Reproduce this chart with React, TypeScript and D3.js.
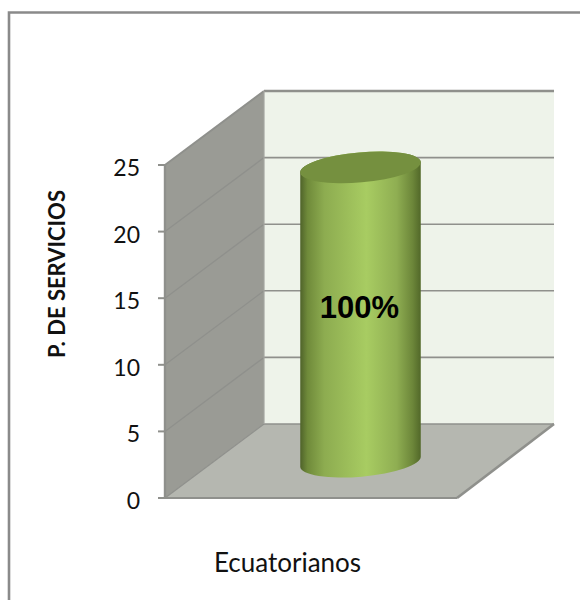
import React from 'react';
import * as d3 from 'd3';

const categories = ['Ecuatorianos'];
const values = [22.1];
const ticks = [0, 5, 10, 15, 20, 25];
const barLabels = ['100%'];
const yTitle = 'P. DE SERVICIOS';

const FONT = 'Lato, Carlito, Calibri, sans-serif';
const GRID = '#8f908c';

// front plane of the 3D box, the back wall is shifted by depth
const left = 165;
const right = 457;
const depthX = 99;
const depthY = 74;

const y = d3.scaleLinear().domain([0, 25]).range([498, 165]);
const x = d3.scaleBand<string>().domain(categories).range([left, right]).paddingInner(0).paddingOuter(0.707);
const line = d3.line();

function cylinderPath(cx: number, yTop: number, yBase: number, rx: number, ry: number) {
  const rot = -5;
  const ex = rx * Math.cos((rot * Math.PI) / 180);
  const ey = rx * Math.sin((rot * Math.PI) / 180);
  return `M${cx - ex},${yTop - ey} L${cx - ex},${yBase - ey} A${rx},${ry} ${rot} 0 0 ${cx + ex},${yBase + ey} L${cx + ex},${yTop + ey} A${rx},${ry} ${rot} 0 0 ${cx - ex},${yTop - ey} Z`;
}

export default function App() {
  const y0 = y(0);
  const y25 = y(25);
  const backLeft = left + depthX;
  const backRight = right + depthX - 2;
  const rx = x.bandwidth() / 2;

  return (
    <svg width={580} height={600} style={{ position: 'absolute', left: 0, top: 0, background: '#fff' }}>
      <defs>
        <linearGradient id="cyl" x1="0" x2="1" y1="0" y2="0">
          <stop offset="0" stopColor="#4f632a" />
          <stop offset="0.06" stopColor="#6f8a3a" />
          <stop offset="0.2" stopColor="#8dac50" />
          <stop offset="0.55" stopColor="#a8cc62" />
          <stop offset="0.8" stopColor="#8fae52" />
          <stop offset="0.93" stopColor="#6d873a" />
          <stop offset="1" stopColor="#526829" />
        </linearGradient>
      </defs>

      {/* outer frame, only top and left are in the picture */}
      <path d="M9,600 V12.5 H580" fill="none" stroke="#8a8a8a" strokeWidth={2.6} />

      {/* walls and floor */}
      <rect x={backLeft} y={y25 - depthY} width={backRight - backLeft} height={y0 - y25} fill="#eef3ea" />
      <path d={line([[left, y0], [left, y25], [backLeft, y25 - depthY], [backLeft, y0 - depthY]])!} fill="#9a9b95" />
      <path d={line([[left, y0], [right, y0], [backRight, y0 - depthY], [backLeft, y0 - depthY]])!} fill="#b5b7b0" />

      {/* gridlines */}
      {ticks.map((t) => (
        <g key={t} fill="none" stroke={GRID}>
          <path d={line([[left, y(t)], [backLeft, y(t) - depthY]])!} strokeWidth={t === 25 ? 2 : 1.3} />
          <path d={line([[backLeft, y(t) - depthY], [backRight, y(t) - depthY]])!} strokeWidth={t === 25 ? 2.6 : 1.6} />
          <path d={line([[left - 7, y(t)], [left, y(t)]])!} strokeWidth={2} />
        </g>
      ))}
      <path d={line([[left, y25], [left, y0]])!} fill="none" stroke={GRID} strokeWidth={2.4} />
      <path d={line([[backLeft, y25 - depthY], [backLeft, y0 - depthY]])!} fill="none" stroke="#a4a5a0" strokeWidth={1.2} />
      <path d={line([[left, y0], [right, y0]])!} fill="none" stroke={GRID} strokeWidth={2.2} />
      <path d={line([[right, y0], [backRight, y0 - depthY]])!} fill="none" stroke={GRID} strokeWidth={2.6} />

      {/* tick labels */}
      {ticks.map((t) => (
        <text key={t} x={140} y={y(t) + 3} dy="0.35em" textAnchor="end" fontFamily={FONT} fontSize={23} fill="#111">
          {t}
        </text>
      ))}

      {/* bars */}
      {categories.map((c, i) => {
        const cx = (x(c) as number) + rx + depthX * 0.5;
        const yBase = y(0) - depthY * 0.49;
        const yTop = y(values[i]) - depthY * 0.49;
        const rot = -5;
        return (
          <g key={c}>
            <path d={cylinderPath(cx, yTop, yBase, rx, 15)} fill="url(#cyl)" />
            <ellipse cx={cx} cy={yTop} rx={rx} ry={15} transform={`rotate(${rot} ${cx} ${yTop})`} fill="#75903f" />
            <text x={cx - 1} y={318} textAnchor="middle" style={{ fontFamily: 'Liberation Sans' }} fontWeight="bold" fontSize={31} fill="#000">
              {barLabels[i]}
            </text>
          </g>
        );
      })}

      {/* axis titles */}
      <text transform="translate(65,274) rotate(-90)" textAnchor="middle" fontFamily={FONT} fontWeight="bold" fontSize={22} fill="#111">
        {yTitle}
      </text>
      {categories.map((c) => (
        <text key={c} x={287.5} y={572} textAnchor="middle" fontFamily={FONT} fontSize={26} fill="#111">
          {c}
        </text>
      ))}
    </svg>
  );
}
